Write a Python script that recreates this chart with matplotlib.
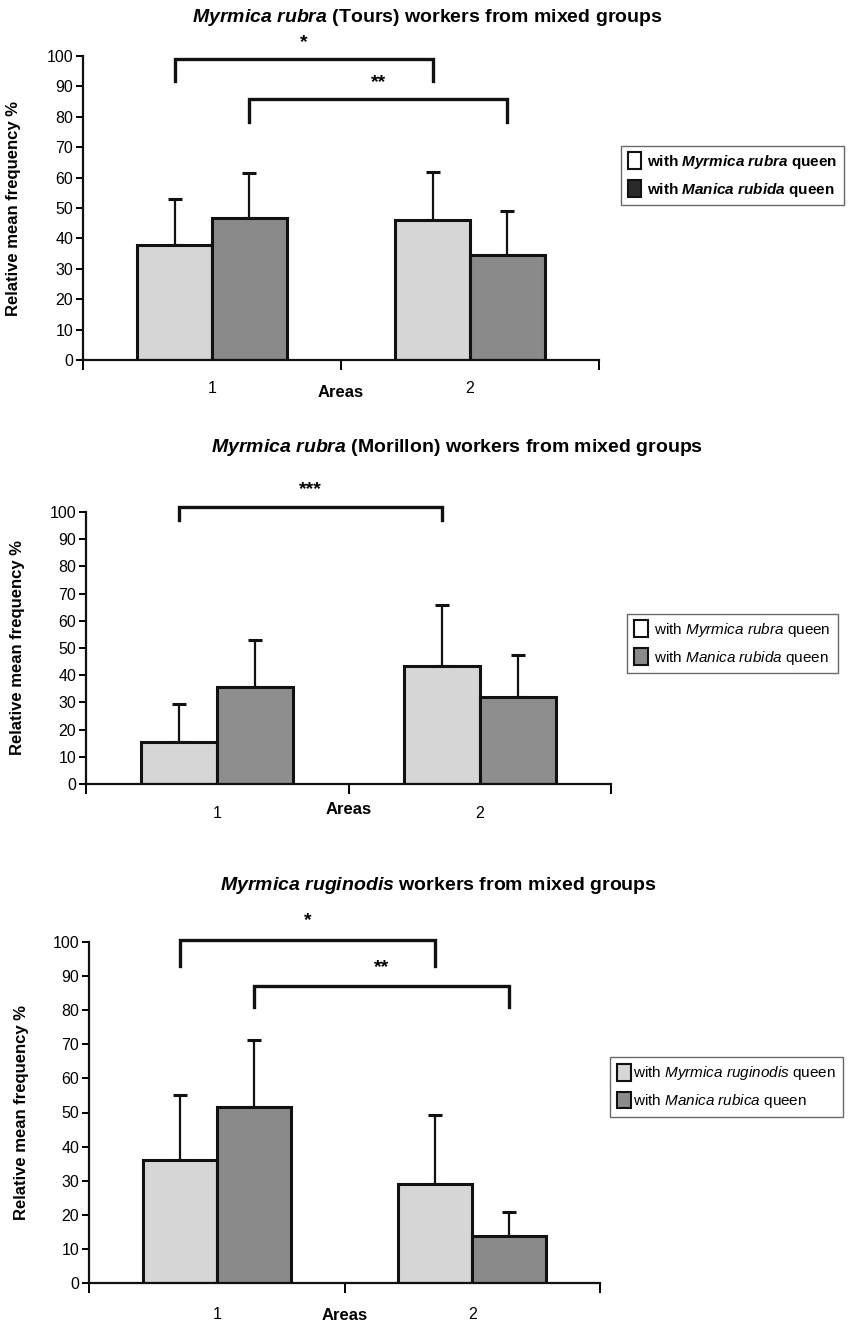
import matplotlib
matplotlib.use("Agg")
import matplotlib.pyplot as plt
from matplotlib.patches import Patch

plt.rcParams['font.family'] = ['Liberation Sans', 'DejaVu Sans']
plt.rcParams['mathtext.fontset'] = 'custom'
plt.rcParams['mathtext.rm'] = 'Liberation Sans'
plt.rcParams['mathtext.it'] = 'Liberation Sans:italic'
plt.rcParams['mathtext.bf'] = 'Liberation Sans:italic:bold'

# ---------------- data ----------------
areas = ["1", "2"]

# panel 1: Myrmica rubra (Tours)
p1_title = r"$\mathbf{Myrmica\ rubra}$ (Tours) workers from mixed groups"
p1_own = [37.8, 46.1]          # with own-species queen
p1_own_err = [52.9, 61.7]      # top of error bar
p1_man = [46.6, 34.5]          # with Manica queen
p1_man_err = [61.4, 48.9]
p1_labels = [r"with $\mathbf{Myrmica\ rubra}$ queen", r"with $\mathbf{Manica\ rubida}$ queen"]
p1_sig = [("*", 0, 2, 98.9, 91.8, 91.8), ("**", 1, 3, 85.7, 78.4, 78.4)]

# panel 2: Myrmica rubra (Morillon)
p2_title = r"$\mathbf{Myrmica\ rubra}$ (Morillon) workers from mixed groups"
p2_own = [15.5, 43.5]
p2_own_err = [29.4, 65.7]
p2_man = [35.5, 32.1]
p2_man_err = [52.9, 47.6]
p2_labels = [r"with $\mathit{Myrmica\ rubra}$ queen", r"with $\mathit{Manica\ rubida}$ queen"]
p2_sig = [("***", 0, 2, 101.8, 96.9, 96.9)]

# panel 3: Myrmica ruginodis
p3_title = r"$\mathbf{Myrmica\ ruginodis}$ workers from mixed groups"
p3_own = [36.1, 29.0]
p3_own_err = [55.1, 49.3]
p3_man = [51.7, 13.7]
p3_man_err = [71.2, 20.8]
p3_labels = [r"with $\mathit{Myrmica\ ruginodis}$ queen", r"with $\mathit{Manica\ rubica}$ queen"]
p3_sig = [("*", 0, 2, 100.7, 92.9, 92.9), ("**", 1, 3, 87.1, 81.0, 81.0)]

yticks = list(range(0, 101, 10))

# ---------------- layout ----------------
W, H = 861, 1325
fig = plt.figure(figsize=(W / 100, H / 100), dpi=100)

def fx(px):
    return px / W

def fy(py):
    return 1 - py / H

LIGHT = '#d6d6d6'
DARK = '#8a8a8a'

panels = [
    dict(title=p1_title, own=p1_own, own_err=p1_own_err, man=p1_man, man_err=p1_man_err,
         labels=p1_labels, sig=p1_sig, left=83, right=599, y0=360, y100=56,
         title_cx=427, title_y=17, ylab_x=14, leg=(610, 144, 855, 207), leg_bold=True,
         leg_colors=('white', '#2a2a2a'), dark=DARK, cat_dy=25, areas_dy=33, star_dy=5.5,
         textpad=0.4),
    dict(title=p2_title, own=p2_own, own_err=p2_own_err, man=p2_man, man_err=p2_man_err,
         labels=p2_labels, sig=p2_sig, left=86, right=611, y0=784, y100=512,
         title_cx=457, title_y=448, ylab_x=18, leg=(612, 612, 853, 675), leg_bold=False,
         leg_colors=('white', '#8a8a8a'), dark='#8e8e8e', cat_dy=26, areas_dy=26, star_dy=6.5,
         textpad=0.4),
    dict(title=p3_title, own=p3_own, own_err=p3_own_err, man=p3_man, man_err=p3_man_err,
         labels=p3_labels, sig=p3_sig, left=89, right=600, y0=1283, y100=942,
         title_cx=438, title_y=885, ylab_x=22, leg=(598, 1052, 855, 1122), leg_bold=False,
         leg_colors=(LIGHT, '#8a8a8a'), dark=DARK, cat_dy=27, areas_dy=33, star_dy=5.5,
         textpad=0.15),
]

bw = 0.29
for p in panels:
    ax = fig.add_axes([fx(p['left']), fy(p['y0']), (p['right'] - p['left']) / W,
                       (p['y0'] - p['y100']) / H])
    ax.set_xlim(0, 2)
    ax.set_ylim(0, 100)
    centers = [0.5, 1.5]
    xs_own = [c - bw / 2 for c in centers]
    xs_man = [c + bw / 2 for c in centers]
    ax.bar(xs_own, p['own'], width=bw, color=LIGHT, edgecolor='#111111', linewidth=2.2, zorder=2)
    ax.bar(xs_man, p['man'], width=bw, color=p['dark'], edgecolor='#111111', linewidth=2.2, zorder=2)
    ax.errorbar(xs_own, p['own'],
                yerr=[[0, 0], [t - v for t, v in zip(p['own_err'], p['own'])]],
                fmt='none', ecolor='#111111', elinewidth=1.6, capsize=5, capthick=2.2, zorder=1)
    ax.errorbar(xs_man, p['man'],
                yerr=[[0, 0], [t - v for t, v in zip(p['man_err'], p['man'])]],
                fmt='none', ecolor='#111111', elinewidth=1.6, capsize=5, capthick=2.2, zorder=1)

    for s in ['top', 'right']:
        ax.spines[s].set_visible(False)
    for s in ['left', 'bottom']:
        ax.spines[s].set_linewidth(1.6)
        ax.spines[s].set_color('#111111')

    ax.set_yticks(yticks)
    ax.set_yticklabels([str(t) for t in yticks], fontsize=11.5)
    ax.tick_params(axis='y', direction='out', length=5, width=1.4, pad=2)
    ax.set_xticks([0, 1, 2])
    ax.set_xticklabels([])
    ax.tick_params(axis='x', which='major', direction='out', length=7, width=1.4)
    ax.set_xticks(centers, minor=True)
    ax.set_xticklabels(areas, minor=True, fontsize=11.5)
    ax.tick_params(axis='x', which='minor', length=0, pad=p['cat_dy'] - 10)
    ax.annotate('Areas', xy=(1, 0), xycoords='data', xytext=(0, -p['areas_dy']),
                textcoords='offset pixels', ha='center', va='center',
                fontsize=12, fontweight='bold')

    allx = [xs_own[0], xs_man[0], xs_own[1], xs_man[1]]
    for stars, i, j, top, lo1, lo2 in p['sig']:
        ax.plot([allx[i], allx[i], allx[j], allx[j]], [lo1, top, top, lo2],
                color='#111111', lw=2.4, clip_on=False, solid_joinstyle='miter')
        ax.text((allx[i] + allx[j]) / 2, top + p['star_dy'], stars, ha='center', va='center',
                fontsize=14, fontweight='bold', clip_on=False)

    fig.text(fx(p['title_cx']), fy(p['title_y']), p['title'], ha='center', va='center',
             fontsize=14, fontweight='bold')
    fig.text(fx(p['ylab_x']), fy((p['y0'] + p['y100']) / 2), 'Relative mean frequency %',
             rotation=90, ha='center', va='center', fontsize=12, fontweight='bold')

    l, t, r, b = p['leg']
    handles = [Patch(facecolor=p['leg_colors'][0], edgecolor='#111111', linewidth=1.5),
               Patch(facecolor=p['leg_colors'][1], edgecolor='#111111', linewidth=1.5)]
    leg = fig.legend(handles, p['labels'], loc='center',
                     bbox_to_anchor=(fx((l + r) / 2), fy((t + b) / 2)),
                     bbox_transform=fig.transFigure, fancybox=False, frameon=True,
                     edgecolor='#444444', handlelength=0.9, handleheight=1.3,
                     handletextpad=p['textpad'], labelspacing=0.6, borderpad=0.45,
                     prop={'weight': 'bold' if p['leg_bold'] else 'normal', 'size': 11})
    leg.get_frame().set_linewidth(1.0)

fig.savefig('out.png', dpi=100)
